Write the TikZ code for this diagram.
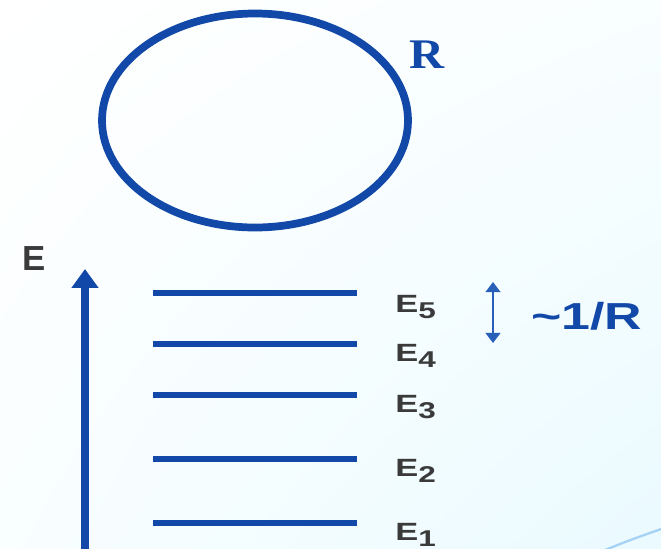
\documentclass[tikz,border=0pt]{standalone}
\usepackage{fontspec}
\setmainfont{Liberation Serif}
\setsansfont{Liberation Sans}
\newfontfamily\widesf[FakeStretch=1.38]{Liberation Sans}
\newfontfamily\wideserif[FakeStretch=1.15]{Liberation Serif}
\usepackage{tikz}
\usetikzlibrary{arrows.meta, shadings}

\definecolor{ringblue}{RGB}{18,72,168}
\definecolor{tipblue}{RGB}{40,95,185}
\definecolor{labelgray}{RGB}{58,58,58}
\definecolor{bgcyan}{RGB}{234,250,255}
\definecolor{bgpale}{RGB}{249,254,255}
\definecolor{swooshblue}{RGB}{165,210,245}

\newcommand{\lvl}[1]{E\raisebox{-3.6pt}{\fontsize{13}{13}\selectfont #1}}

\begin{document}
\begin{tikzpicture}[
    x=0.02cm, y=-0.02cm,
    level/.style={draw=ringblue, line width=3.4pt},
    lvllabel/.style={anchor=base west, inner sep=0pt, text=labelgray,
        font=\widesf\bfseries\fontsize{14.2}{14.2}\selectfont},
    every node/.style={inner sep=0pt}
]
\useasboundingbox (0,0) rectangle (661,548);
\clip (0,0) rectangle (661,548);
\shade[upper left=white, upper right=bgpale, lower left=bgpale, lower right=bgcyan]
    (0,0) rectangle (661,548);
\draw[swooshblue, line width=1.3pt] (605,550) .. controls (630,540) .. (664,528);

% the ring
\draw[ringblue, line width=4.4pt] (255,120.5) ellipse [x radius=153, y radius=107];
\node[anchor=base west, text=ringblue, font=\wideserif\bfseries\fontsize{24}{24}\selectfont]
    (rlabel) at (409,68) {R};

% energy axis
\coordinate (ax0) at (85,560);
\coordinate (ax1) at (85,269);
\draw[ringblue, line width=4.6pt, -{Triangle[width=14.8pt, length=10.8pt]}] (ax0) -- (ax1);
\node[anchor=base west, text=labelgray, font=\sffamily\bfseries\fontsize{19.8}{19.8}\selectfont]
    (elabel) at (22,270) {E};

% levels
\coordinate (l5a) at (153,293); \coordinate (l5b) at (357,293);
\coordinate (l4a) at (153,344); \coordinate (l4b) at (357,344);
\coordinate (l3a) at (153,395); \coordinate (l3b) at (357,395);
\coordinate (l2a) at (153,459); \coordinate (l2b) at (357,459);
\coordinate (l1a) at (153,523); \coordinate (l1b) at (357,523);
\draw[level] (l5a) -- (l5b);
\draw[level] (l4a) -- (l4b);
\draw[level] (l3a) -- (l3b);
\draw[level] (l2a) -- (l2b);
\draw[level] (l1a) -- (l1b);

\node[lvllabel] (e5) at (395,312) {\lvl{5}};
\node[lvllabel] (e4) at (395,361) {\lvl{4}};
\node[lvllabel] (e3) at (395,412) {\lvl{3}};
\node[lvllabel] (e2) at (395,476) {\lvl{2}};
\node[lvllabel] (e1) at (395,540) {\lvl{1}};

% spacing
\coordinate (gtop) at (493,282);
\coordinate (gbot) at (493,343);
\draw[tipblue, line width=1.1pt, {Triangle[width=8.5pt, length=5.8pt]}-{Triangle[width=8.5pt, length=5.8pt]}]
    (gtop) -- (gbot);
\node[anchor=base west, text=ringblue, font=\widesf\bfseries\fontsize{21.4}{21.4}\selectfont]
    (gap) at (531,329) {\textasciitilde 1/R};
\end{tikzpicture}
\end{document}
